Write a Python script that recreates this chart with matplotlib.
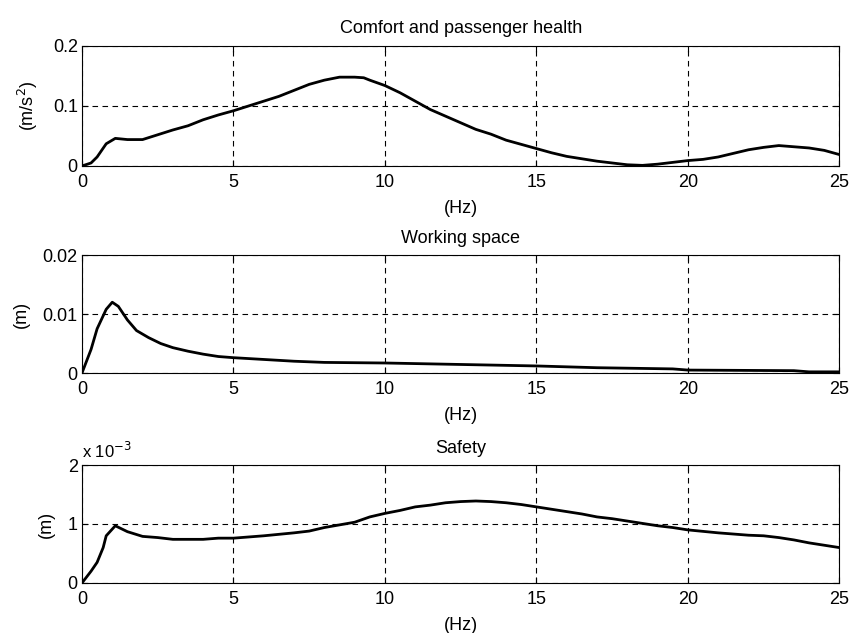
import matplotlib
matplotlib.use("Agg")
import matplotlib.pyplot as plt

plt.rcParams['font.family'] = ['Liberation Sans', 'DejaVu Sans']
plt.rcParams['font.size'] = 13

# comfort and passenger health, acceleration (m/s^2)
f_comfort = [0, 0.3, 0.5, 0.8, 1.1, 1.3, 1.5, 2, 2.5, 3, 3.5, 4, 4.5, 5, 5.5, 6, 6.5, 7,
             7.5, 8, 8.5, 9, 9.3, 9.5, 10, 10.5, 11, 11.5, 12, 12.5, 13, 13.5, 14, 14.5,
             15, 15.5, 16, 16.5, 17, 17.5, 18, 18.5, 19, 19.5, 20, 20.5, 21, 21.5, 22,
             22.5, 23, 23.5, 24, 24.5, 25]
comfort = [0, 0.005, 0.015, 0.037, 0.046, 0.045, 0.044, 0.044, 0.052, 0.06, 0.067, 0.077,
           0.085, 0.092, 0.1, 0.108, 0.116, 0.126, 0.136, 0.143, 0.148, 0.148, 0.147,
           0.143, 0.134, 0.122, 0.108, 0.094, 0.083, 0.072, 0.061, 0.053, 0.043, 0.036,
           0.029, 0.022, 0.016, 0.012, 0.008, 0.005, 0.002, 0.001, 0.003, 0.006, 0.009,
           0.011, 0.015, 0.021, 0.027, 0.031, 0.034, 0.032, 0.03, 0.026, 0.019]

# working space (m)
f_work = [0, 0.3, 0.5, 0.8, 1.0, 1.2, 1.5, 1.8, 2.2, 2.6, 3, 3.5, 4, 4.5, 5, 6, 7, 8, 10,
          11, 13, 15, 17, 19.5, 20, 23.5, 24, 25]
work = [0, 0.004, 0.0075, 0.0108, 0.012, 0.0113, 0.009, 0.0072, 0.006, 0.005, 0.0043,
        0.0037, 0.0032, 0.0028, 0.0026, 0.0023, 0.002, 0.0018, 0.0017, 0.0016, 0.0014,
        0.0012, 0.0009, 0.0007, 0.0005, 0.0004, 0.0002, 0.0002]

# safety, tyre deflection (x 1e-3 m)
f_safety = [0, 0.3, 0.5, 0.7, 0.8, 1.1, 1.5, 2, 2.5, 3, 4, 4.5, 5, 5.5, 6, 7, 7.5, 8, 9,
            9.5, 10, 10.5, 11, 11.5, 12, 12.5, 13, 13.5, 14, 14.5, 15, 15.5, 16, 16.5,
            17, 17.5, 18, 18.5, 19, 19.5, 20, 21, 22, 22.5, 23, 23.5, 24, 24.5, 25]
safety = [0, 0.2, 0.35, 0.6, 0.8, 0.97, 0.87, 0.79, 0.77, 0.74, 0.74, 0.76, 0.76, 0.78,
          0.8, 0.85, 0.88, 0.94, 1.03, 1.12, 1.18, 1.23, 1.29, 1.32, 1.36, 1.38, 1.39,
          1.38, 1.36, 1.33, 1.29, 1.25, 1.21, 1.17, 1.12, 1.09, 1.05, 1.01, 0.97, 0.94,
          0.9, 0.85, 0.81, 0.8, 0.77, 0.73, 0.68, 0.64, 0.6]

x_ticks = [0, 5, 10, 15, 20, 25]

fig = plt.figure(figsize=(8.52, 6.33), dpi=100)

panels = [
    (f_comfort, comfort, [0, 0.1, 0.2], ['0', '0.1', '0.2'], '(m/s$^2$)',
     'Comfort and passenger health', [0.0962, 0.7378, 0.889, 0.1896]),
    (f_work, work, [0, 0.01, 0.02], ['0', '0.01', '0.02'], '(m)',
     'Working space', [0.0962, 0.4107, 0.889, 0.1864]),
    (f_safety, safety, [0, 1, 2], ['0', '1', '2'], '(m)',
     'Safety', [0.0962, 0.079, 0.889, 0.1864]),
]

for fx, fy, yt, ytl, ylab, title, pos in panels:
    ax = fig.add_axes(pos)
    ax.plot(fx, fy, color='black', linewidth=2)
    ax.set_xlim(0, 25)
    ax.set_ylim(yt[0], yt[-1])
    ax.set_xticks(x_ticks)
    ax.set_yticks(yt)
    ax.set_yticklabels(ytl)
    ax.grid(True, color='black', linestyle=(0, (5, 4)), linewidth=0.8)
    ax.tick_params(direction='in', top=True, right=True, length=4)
    ax.tick_params(axis='x', pad=6)
    ax.tick_params(axis='y', pad=3)
    ax.set_xlabel('(Hz)', labelpad=6)
    ax.set_ylabel(ylab, labelpad=9)
    ax.set_title(title, fontsize=13, pad=9)
    for s in ax.spines.values():
        s.set_linewidth(0.8)

ax.text(0, 1.03, r'x 10$^{-3}$', transform=ax.transAxes, fontsize=12,
        ha='left', va='bottom')

fig.savefig('out.png', dpi=100)
